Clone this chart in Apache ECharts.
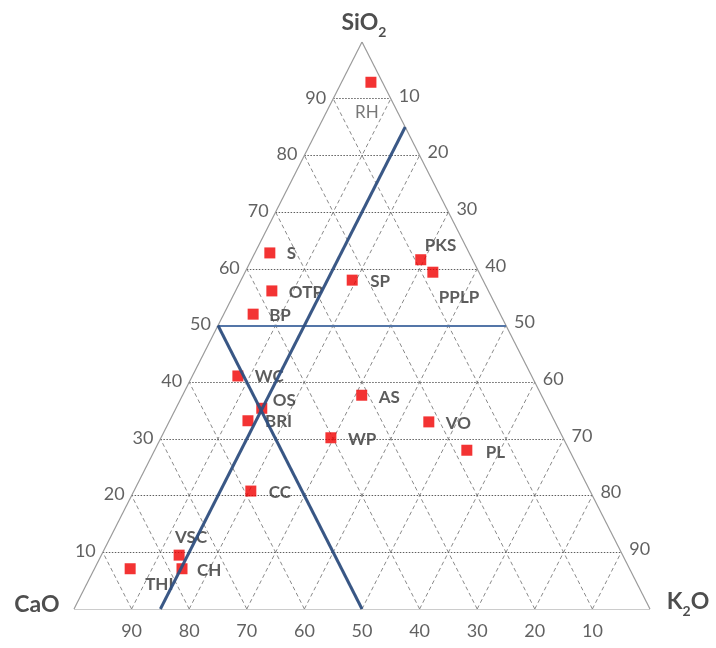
<!DOCTYPE html>
<html><head><meta charset="utf-8">
<script src="https://cdn.jsdelivr.net/npm/echarts@6/dist/echarts.min.js"></script>
<style>html,body{margin:0;padding:0;background:#fff}#c{width:716px;height:648px}</style>
</head><body><div id="c"></div>
<script>
// ---- data (ternary compositions, %) ----
const sampleNames = ['RH','S','OTP','BP','SP','PKS','PPLP','WC','OS','BRI','AS','WP','VO','PL','CC','VSC','CH','THI'];
const sio2 = [92.9,62.8,56.1,52.0,58.0,61.6,59.4,41.1,35.4,33.2,37.7,30.2,33.0,28.0,20.8,9.5,7.1,7.1];
const k2o  = [5.1,2.6,6.3,5.1,19.3,29.4,32.6,7.9,14.9,13.6,31.1,29.5,45.1,54.2,20.3,13.5,15.2,6.2];
const cao  = [2.0,34.6,37.6,42.9,22.7,9.0,8.0,51.0,49.7,53.2,31.2,40.3,21.9,17.8,58.9,77.0,77.7,86.7];
const gridValues = [10,20,30,40,50,60,70,80,90];
const sio2TickLabels = ['10','20','30','40','50','60','70','80','90'];  // along left edge, at SiO2 = gridValues
const k2oTickLabels  = ['90','80','70','60','50','40','30','20','10'];  // along right edge, at SiO2 = gridValues
const caoTickLabels  = ['10','20','30','40','50','60','70','80','90'];  // along base, at CaO = gridValues
// boundary lines (constant-component lines)
const boundarySiO2 = 50;
const boundaryCaO = 50;
const boundaryK2O = 15;

// ---- label placement (style only) ----
const labelPlace = {
  RH:[-4,30,'center'], S:[17,1,'left'], OTP:[17,2,'left'], BP:[16,1,'left'], SP:[18,1,'left'],
  PKS:[4,-14,'left'], PPLP:[6,25,'left'], WC:[17,1,'left'], OS:[11,-8,'left'], BRI:[17,1,'left'],
  AS:[17,2,'left'], WP:[17,2,'left'], VO:[17,2,'left'], PL:[19,2,'left'], CC:[18,1,'left'],
  VSC:[12,-18,'center'], CH:[15,2,'left'], THI:[15,16,'left']
};

// ternary -> cartesian (x in 0..100, y in 0..100)
function P(s, k, c) { const t = s + k + c; s = s / t * 100; k = k / t * 100; return [k + s / 2, s]; }

const FONT = 'Lato, "Open Sans", sans-serif';

// grid line segments
const hLines = [], dLines = [];
gridValues.forEach(v => {
  hLines.push({coords: [P(v, 0, 100 - v), P(v, 100 - v, 0)]});          // const SiO2
  dLines.push({coords: [P(0, v, 100 - v), P(100 - v, v, 0)]});          // const K2O
  dLines.push({coords: [P(0, 100 - v, v), P(100 - v, 0, v)]});          // const CaO
});
const outline = [
  {coords: [P(0,0,100), P(0,100,0)]},
  {coords: [P(0,100,0), P(100,0,0)]},
  {coords: [P(100,0,0), P(0,0,100)]}
];
const blueThick = [
  {coords: [P(100 - boundaryCaO, 0, boundaryCaO), P(0, 100 - boundaryCaO, boundaryCaO)]},
  {coords: [P(100 - boundaryK2O, boundaryK2O, 0), P(0, boundaryK2O, 100 - boundaryK2O)]}
];
const blueThin = [
  {coords: [P(boundarySiO2, 0, 100 - boundarySiO2), P(boundarySiO2, 100 - boundarySiO2, 0)]}
];

const pts = sampleNames.map((n, i) => {
  const lp = labelPlace[n];
  return {
    name: n, value: P(sio2[i], k2o[i], cao[i]),
    label: {offset: [lp[0], lp[1]], align: lp[2],
      fontWeight: n === 'RH' ? 'normal' : 'bold', color: n === 'RH' ? '#555' : '#333'}
  };
});

// tick labels
const tickPts = [];
gridValues.forEach((v, i) => {
  tickPts.push({value: P(v, 0, 100 - v), label: {formatter: sio2TickLabels[i], align: 'right', offset: [-7, -1]}});
  tickPts.push({value: P(v, 100 - v, 0), label: {formatter: k2oTickLabels[i], align: 'left', offset: [8, -3]}});
  tickPts.push({value: P(0, 100 - v, v), label: {formatter: caoTickLabels[i], align: 'center', offset: [0, 22]}});
});

const titlePts = [
  {value: P(100,0,0), label: {formatter: '{a|SiO}{b|2}', offset: [2, -16]}},
  {value: P(0,0,100), label: {formatter: '{c|CaO}', offset: [-37, -4]}},
  {value: P(0,100,0), label: {formatter: '{a|K}{b|2}{a|O}', offset: [38, -4]}}
];

const chart = echarts.init(document.getElementById('c'));
chart.setOption({
  animation: false,
  backgroundColor: '#fff',
  grid: {left: 74, right: 66, top: 42, bottom: 39},
  xAxis: {type: 'value', min: 0, max: 100, show: false},
  yAxis: {type: 'value', min: 0, max: 100, show: false},
  series: [
    {type: 'lines', coordinateSystem: 'cartesian2d', data: dLines, z: 1,
     lineStyle: {color: '#8a8a8a', width: 1, type: [4, 3], opacity: 1}},
    {type: 'lines', coordinateSystem: 'cartesian2d', data: hLines, z: 1,
     lineStyle: {color: '#5f5f5f', width: 1.2, type: [1.5, 1.5], opacity: 1}},
    {type: 'lines', coordinateSystem: 'cartesian2d', data: outline, z: 2,
     lineStyle: {color: '#9a9a9a', width: 1.2, type: 'solid', opacity: 1}},
    {type: 'lines', coordinateSystem: 'cartesian2d', data: blueThin, z: 3,
     lineStyle: {color: '#5476a8', width: 2, type: 'solid', opacity: 1}},
    {type: 'scatter', data: pts, z: 4, clip: false, symbol: 'rect', symbolSize: 11,
     itemStyle: {color: '#f00000'},
     label: {show: true, position: 'inside', formatter: '{b}', fontFamily: FONT, fontSize: 17,
             verticalAlign: 'middle'}},
    {type: 'lines', coordinateSystem: 'cartesian2d', data: blueThick, z: 5,
     lineStyle: {color: '#2f4f80', width: 3, type: 'solid', opacity: 0.95}},
    {type: 'scatter', data: tickPts, z: 6, clip: false, symbolSize: 1, silent: true,
     itemStyle: {color: 'rgba(0,0,0,0)'},
     label: {show: true, position: 'inside', verticalAlign: 'middle', fontFamily: FONT, fontSize: 18, color: '#3a3a3a'}},
    {type: 'scatter', data: titlePts, z: 6, clip: false, symbolSize: 1, silent: true,
     itemStyle: {color: 'rgba(0,0,0,0)'},
     label: {show: true, position: 'inside', align: 'center', verticalAlign: 'middle',
       rich: {
         a: {fontFamily: FONT, fontSize: 23, fontWeight: 'bold', color: '#222', lineHeight: 26, verticalAlign: 'bottom', padding: [0, 0, 5, 0]},
         b: {fontFamily: FONT, fontSize: 14, fontWeight: 'bold', color: '#222', lineHeight: 14, verticalAlign: 'bottom'},
         c: {fontFamily: FONT, fontSize: 23, fontWeight: 'bold', color: '#222', lineHeight: 26}
       }}}
  ]
});
</script></body></html>
